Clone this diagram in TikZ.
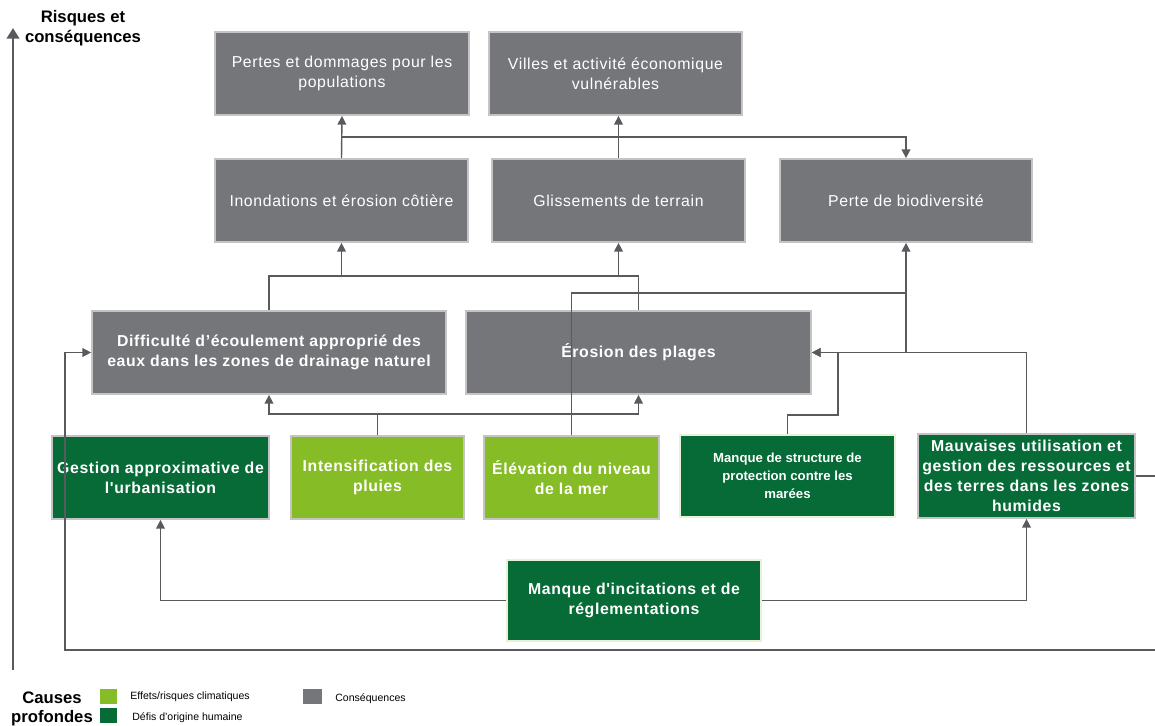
\documentclass[tikz,border=0pt]{standalone}
\usepackage{fontspec}
\setmainfont{Liberation Sans}
\newfontfamily\boxfont[LetterSpace=4]{Liberation Sans}
\usetikzlibrary{arrows.meta}
\definecolor{consgray}{HTML}{74767A}
\definecolor{boxline}{HTML}{C4C4C4}
\definecolor{darkgreen}{HTML}{066B37}
\definecolor{lightgreen}{HTML}{86BC25}
\definecolor{paleline}{HTML}{E6F2D6}
\definecolor{linegray}{HTML}{595A5E}

\begin{document}
\begin{tikzpicture}[x=0.02cm, y=-0.02cm,
        conseq/.style={draw=boxline, line width=1pt, fill=consgray, text=white, minimum height=1.66cm, inner sep=0pt, align=center, font=\boxfont\fontsize{9}{11.3}\selectfont},
        bold/.style={font=\boxfont\bfseries\fontsize{9}{11.3}\selectfont},
        humain/.style={conseq, bold, fill=darkgreen},
        climat/.style={conseq, bold, fill=lightgreen},
        link/.style={draw=linegray, line width=0.8pt},
        arr/.style={link, -{Triangle[width=5pt, length=5pt]}},
        legsq/.style={inner sep=0pt, minimum width=0.34cm, minimum height=0.3cm},
        legtext/.style={anchor=west, inner sep=0pt, font=\fontsize{6}{7}\selectfont}]
        \useasboundingbox (0, 0) rectangle (1155, 726);
        \clip (0, 0) rectangle (1155, 726);

        \node[conseq, minimum width=5.08cm] at (342, 73.5) (pertes) {Pertes et dommages pour les\\populations};
        \node[conseq, minimum width=5.06cm] at (615.5, 73.5) (villes) {Villes et activité économique\\vulnérables};
        \node[conseq, minimum width=5.06cm] at (341.5, 200.5) (inond) {Inondations et érosion côtière};
        \node[conseq, minimum width=5.06cm] at (618.5, 200.5) (gliss) {Glissements de terrain};
        \node[conseq, minimum width=5.04cm] at (906, 200.5) (biodiv) {Perte de biodiversité};

        \node[conseq, bold, minimum width=7.08cm] at (269, 352.5) (diffic) {Difficulté d’écoulement approprié des\\eaux dans les zones de drainage naturel};
        \node[conseq, bold, minimum width=6.9cm] at (638.5, 352.5) (erosion) {Érosion des plages};

        \node[humain, minimum width=4.34cm] at (160.5, 477.5) (gestion) {Gestion approximative de\\l'urbanisation};
        \node[climat, minimum width=3.46cm] at (377.5, 477.5) (intens) {Intensification des\\pluies};
        \node[climat, minimum width=3.5cm] at (571.5, 477.5) (elev) {Élévation du niveau\\de la mer};
        \node[humain, draw=paleline, minimum width=4.3cm, minimum height=1.64cm, font=\bfseries\fontsize{7.5}{10.2}\selectfont] at (787.5, 476) (structure) {Manque de structure de\\protection contre les\\marées};
        \node[humain, minimum width=4.34cm, minimum height=1.68cm] at (1026.5, 476) (mauv) {Mauvaises utilisation et\\gestion des ressources et\\des terres dans les zones\\humides};
        \node[humain, draw=paleline, minimum width=5.08cm, minimum height=1.62cm] at (634, 600.5) (incit) {Manque d'incitations et de\\réglementations};

        \draw [arr] (inond.north) -- (pertes.south);
        \draw [arr] (gliss.north) -- (gliss.north |- villes.south);
        \draw [arr] (inond.north |- 0, 137) -| (biodiv.north);

        \draw [link] (diffic.north) |- (erosion.north |- 0, 276) -- (erosion.north);
        \draw [arr] (inond.south |- 0, 276) -- (inond.south);
        \draw [arr] (gliss.south |- 0, 276) -- (gliss.south);

        \draw [link] (elev.north) |- (biodiv.south |- 0, 293);
        \draw [arr] (mauv.north) |- (erosion.east);
        \draw [arr] (biodiv.south |- erosion.east) -- (biodiv.south);
        \coordinate (sbend) at (838, 415);
        \draw [arr] (structure.north) |- (sbend) |- (erosion.east);

        \draw [arr] (intens.north) |- (diffic.south |- 0, 414) -- (diffic.south);
        \draw [arr] (intens.north |- 0, 414) -| (erosion.south);

        \draw [arr] (mauv.east) -- ++(40, 0) |- (65, 650) |- (diffic.west);
        \draw [arr] (incit.west) -| (gestion.south);
        \draw [arr] (incit.east) -| (mauv.south);

        \coordinate (axbot) at (13, 670);
        \coordinate (axtop) at (13, 28);
        \draw [draw=linegray, line width=1.7pt, -{Triangle[width=7pt, length=6pt]}] (axbot) -- (axtop);
        \node[align=center, font=\bfseries\fontsize{9.5}{11.5}\selectfont] at (83, 28.5) (risques) {Risques et\\conséquences};
        \node[align=center, font=\bfseries\fontsize{9.5}{11}\selectfont] at (52, 709) (causes) {Causes\\profondes};

        \node[legsq, fill=lightgreen] at (108.5, 696.5) (legclimat) {};
        \node[legsq, fill=darkgreen] at (108.5, 715.5) (leghumain) {};
        \node[legsq, fill=consgray, minimum width=0.38cm] at (312.5, 696.5) (legconseq) {};
        \node[legtext] at (130, 697) (txtclimat) {Effets/risques climatiques};
        \node[legtext] at (132, 718) (txthumain) {Défis d’origine humaine};
        \node[legtext] at (335, 699) (txtconseq) {Conséquences};
\end{tikzpicture}
\end{document}
